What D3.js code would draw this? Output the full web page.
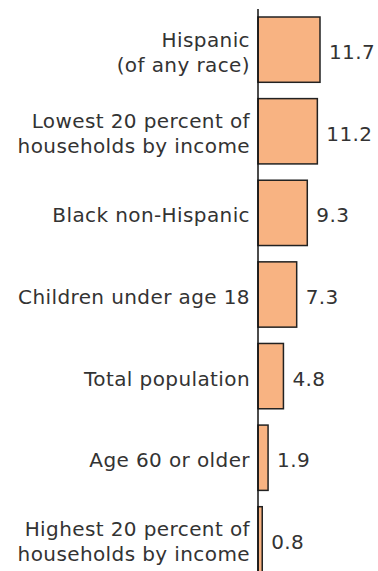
<!DOCTYPE html>
<html lang="en">
  <head>
    <meta charset="UTF-8" />
    <title>Chart</title>
    <style>
      body { margin: 0; background: #fff; }
    </style>
  </head>
  <body>
    <svg id="svg" width="378" height="571"></svg>

    <script src="https://cdn.jsdelivr.net/npm/d3@7"></script>
    <script>
      const WIDTH = 378;
      const HEIGHT = 571;
      const AXIS_X = 258;

      const categories = [
        ["Hispanic", "(of any race)"],
        ["Lowest 20 percent of", "households by income"],
        ["Black non-Hispanic"],
        ["Children under age 18"],
        ["Total population"],
        ["Age 60 or older"],
        ["Highest 20 percent of", "households by income"],
      ];
      const values = [11.7, 11.2, 9.3, 7.3, 4.8, 1.9, 0.8];

      const data = categories.map((c, i) => ({ key: i, lines: c, value: values[i] }));

      const xScale = d3.scaleLinear().domain([0, 11.7]).range([AXIS_X, AXIS_X + 62]);
      const yScale = d3
        .scaleBand()
        .domain(data.map((d) => d.key))
        .range([17, 572])
        .paddingInner(0.2)
        .paddingOuter(0);

      const svg = d3.select("#svg");

      svg
        .append("g")
        .selectAll("rect")
        .data(data)
        .enter()
        .append("rect")
        .attr("x", xScale(0))
        .attr("y", (d) => yScale(d.key))
        .attr("width", (d) => xScale(d.value) - xScale(0))
        .attr("height", yScale.bandwidth())
        .attr("fill", "#f8b382")
        .attr("stroke", "#222")
        .attr("stroke-width", 1.5);

      // axis line
      svg
        .append("line")
        .attr("x1", AXIS_X)
        .attr("x2", AXIS_X)
        .attr("y1", 9)
        .attr("y2", HEIGHT)
        .attr("stroke", "#111")
        .attr("stroke-width", 1.5);

      const font = "DejaVu Sans, sans-serif";
      const fontSize = 20;
      const spacing = 0.4;
      const baseOff = 9.5;

      // category labels
      const labels = svg
        .append("g")
        .selectAll("text")
        .data(data)
        .enter()
        .append("text")
        .attr("text-anchor", "end")
        .attr("font-family", font)
        .attr("font-size", fontSize)
        .attr("letter-spacing", spacing)
        .attr("fill", "#333");

      labels
        .selectAll("tspan")
        .data((d) =>
          d.lines.map((l, j) => ({
            text: l,
            y: yScale(d.key) + yScale.bandwidth() / 2 + baseOff + (j - (d.lines.length - 1) / 2) * 25,
          }))
        )
        .enter()
        .append("tspan")
        .attr("x", AXIS_X - 8)
        .attr("y", (d) => d.y)
        .text((d) => d.text);

      // value labels
      svg
        .append("g")
        .selectAll("text")
        .data(data)
        .enter()
        .append("text")
        .attr("x", (d) => xScale(d.value) + 9)
        .attr("y", (d) => yScale(d.key) + yScale.bandwidth() / 2 + baseOff)
        .attr("font-family", font)
        .attr("font-size", fontSize)
        .attr("letter-spacing", spacing)
        .attr("fill", "#333")
        .text((d) => d.value.toFixed(1));
    </script>
  </body>
</html>
